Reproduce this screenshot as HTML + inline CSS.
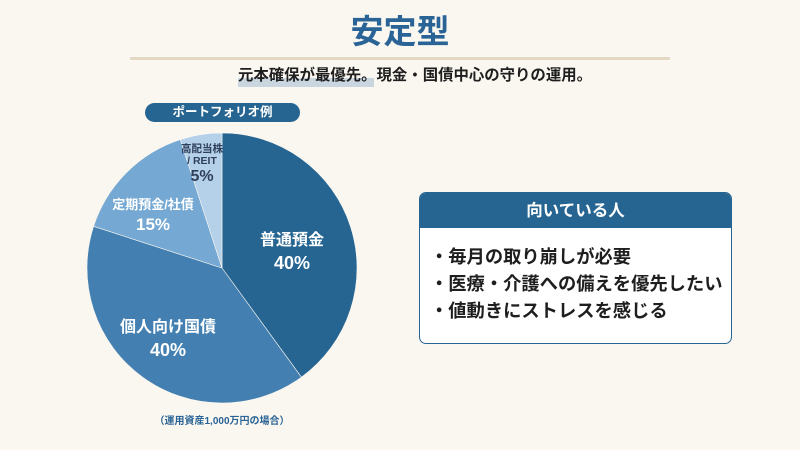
<!DOCTYPE html>
<html><head><meta charset="utf-8"><style>
html,body{margin:0;padding:0;}
body{width:800px;height:450px;background:#faf7f0;position:relative;overflow:hidden;font-family:"Liberation Sans","Noto Sans CJK JP",sans-serif;}
.t{position:absolute;white-space:nowrap;font-weight:bold;}
</style></head><body>
<div class="t" style="left:0;width:800px;top:10px;text-align:center;font-size:33px;color:#2a6496;line-height:44px;">安定型</div>
<div style="position:absolute;left:130px;width:540px;top:57px;height:3px;background:#e4d7c6;"></div>
<div style="position:absolute;left:238px;top:78px;width:136px;height:9px;background:#c9d6e0;"></div>
<div class="t" style="left:238px;top:65px;font-size:15.4px;color:#1e1e1e;line-height:22px;">元本確保が最優先。現金・国債中心の守りの運用。</div>
<div class="t" style="left:145px;top:103px;width:155px;height:19px;border-radius:10px;background:#266592;color:#fff;font-size:12.5px;line-height:19px;text-align:center;">ポートフォリオ例</div>
<svg style="position:absolute;left:0;top:0" width="800" height="450">
<path d="M222,268 L222,133 A135,135 0 0 1 301.4,377.2 Z" fill="#266592" stroke="#faf7f0" stroke-width="0.6"/>
<path d="M222,268 L301.4,377.2 A135,135 0 0 1 93.6,226.3 Z" fill="#4380b1" stroke="#faf7f0" stroke-width="0.6"/>
<path d="M222,268 L93.6,226.3 A135,135 0 0 1 180.3,139.6 Z" fill="#75a8d2" stroke="#faf7f0" stroke-width="0.6"/>
<path d="M222,268 L180.3,139.6 A135,135 0 0 1 222,133 Z" fill="#b4d1e9" stroke="#faf7f0" stroke-width="0.6"/>
</svg>
<div class="t" style="left:242px;width:100px;top:230px;text-align:center;color:#fff;font-size:16px;line-height:22px;">普通預金<br><span style="font-size:18px">40%</span></div>
<div class="t" style="left:108px;width:120px;top:317px;text-align:center;color:#fff;font-size:16px;line-height:22px;">個人向け国債<br><span style="font-size:18px">40%</span></div>
<div class="t" style="left:100px;width:106px;top:195px;text-align:center;color:#fff;font-size:13px;line-height:20px;">定期預金/社債<br><span style="font-size:17px">15%</span></div>
<div class="t" style="left:170px;width:64px;top:143px;text-align:center;color:#2f3f5c;font-size:10.5px;line-height:12px;">高配当株<br>/ REIT<br><span style="font-size:16px;line-height:20px;">5%</span></div>
<div class="t" style="left:122px;width:200px;top:415px;text-align:center;color:#2a6496;font-size:10px;line-height:14px;">（運用資産1,000万円の場合）</div>
<div style="position:absolute;left:419px;top:192px;width:311px;height:150px;border:1.5px solid #266592;border-radius:7px;background:#fff;overflow:hidden;">
<div class="t" style="position:static;height:35px;background:#266592;color:#fff;font-size:16.5px;line-height:36px;text-align:center;">向いている人</div>
<div class="t" style="left:10px;top:50px;color:#1e1e1e;font-size:18.3px;line-height:27px;">・毎月の取り崩しが必要<br>・医療・介護への備えを優先したい<br>・値動きにストレスを感じる</div>
</div>
</body></html>
